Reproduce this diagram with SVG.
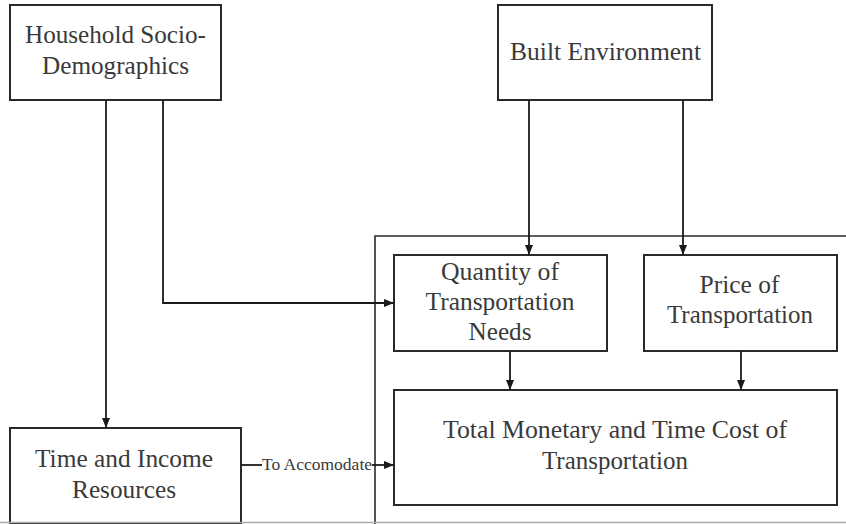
<svg xmlns="http://www.w3.org/2000/svg" width="846" height="524" viewBox="0 0 846 524">
  <defs>
    <marker id="arrow" viewBox="0 0 10 10" refX="10" refY="5" markerWidth="10" markerHeight="10" markerUnits="userSpaceOnUse" orient="auto">
      <path d="M0,1 L10,5 L0,9 Z" fill="#1a1a1a"/>
    </marker>
  </defs>
  <style>
    .box { fill: #ffffff; stroke: #2a2a2a; stroke-width: 2; }
    .frame { fill: none; stroke: #2a2a2a; stroke-width: 1.6; }
    .edge { fill: none; stroke: #1a1a1a; stroke-width: 1.8; }
    .label { font-family: "Liberation Serif", "Times New Roman", serif; font-size: 25px; fill: #3a3a3a; text-anchor: middle; }
    .small { font-family: "Liberation Serif", "Times New Roman", serif; font-size: 16px; fill: #3a3a3a; text-anchor: middle; }
  </style>
  <rect width="846" height="524" fill="#ffffff"/>

  <!-- enclosing frame around the transportation cost blocks -->
  <path class="frame" d="M846,236 H375 V524"/>

  <g id="household">
    <rect class="box" x="10" y="5" width="211" height="95"/>
    <text class="label" x="115.5" y="43" textLength="181" lengthAdjust="spacingAndGlyphs">Household Socio-</text>
    <text class="label" x="115.5" y="74" textLength="147" lengthAdjust="spacingAndGlyphs">Demographics</text>
  </g>

  <g id="built-environment">
    <rect class="box" x="498" y="5" width="214" height="95"/>
    <text class="label" x="605.5" y="60" textLength="191" lengthAdjust="spacingAndGlyphs">Built Environment</text>
  </g>

  <g id="quantity">
    <rect class="box" x="394" y="255" width="213" height="96"/>
    <text class="label" x="500" y="280" textLength="118" lengthAdjust="spacingAndGlyphs">Quantity of</text>
    <text class="label" x="500" y="310" textLength="149" lengthAdjust="spacingAndGlyphs">Transportation</text>
    <text class="label" x="500" y="340" textLength="63" lengthAdjust="spacingAndGlyphs">Needs</text>
  </g>

  <g id="price">
    <rect class="box" x="644" y="255" width="193" height="96"/>
    <text class="label" x="739.5" y="293" textLength="80" lengthAdjust="spacingAndGlyphs">Price of</text>
    <text class="label" x="740" y="323" textLength="146" lengthAdjust="spacingAndGlyphs">Transportation</text>
  </g>

  <g id="total-cost">
    <rect class="box" x="394" y="390" width="443" height="115"/>
    <text class="label" x="615" y="438" textLength="344" lengthAdjust="spacingAndGlyphs">Total Monetary and Time Cost of</text>
    <text class="label" x="615" y="469" textLength="146" lengthAdjust="spacingAndGlyphs">Transportation</text>
  </g>

  <g id="resources">
    <rect class="box" x="10" y="428" width="231" height="96"/>
    <text class="label" x="124" y="467" textLength="178" lengthAdjust="spacingAndGlyphs">Time and Income</text>
    <text class="label" x="124" y="498" textLength="104" lengthAdjust="spacingAndGlyphs">Resources</text>
  </g>

  <g id="connectors">
    <path class="edge" d="M106,100 V428" marker-end="url(#arrow)"/>
    <path class="edge" d="M163,100 V303 H394" marker-end="url(#arrow)"/>
    <path class="edge" d="M529,100 V255" marker-end="url(#arrow)"/>
    <path class="edge" d="M683,100 V255" marker-end="url(#arrow)"/>
    <path class="edge" d="M510,351 V390" marker-end="url(#arrow)"/>
    <path class="edge" d="M741,351 V390" marker-end="url(#arrow)"/>
    <path class="edge" d="M241,465 H262"/>
    <path class="edge" d="M372,465 H394" marker-end="url(#arrow)"/>
    <text class="small" x="317" y="470" textLength="110" lengthAdjust="spacingAndGlyphs">To Accomodate</text>
  </g>

  <!-- lower edge rule -->
  <line x1="0" y1="522.5" x2="846" y2="522.5" stroke="#aaaaaa" stroke-width="1.5"/>
</svg>
